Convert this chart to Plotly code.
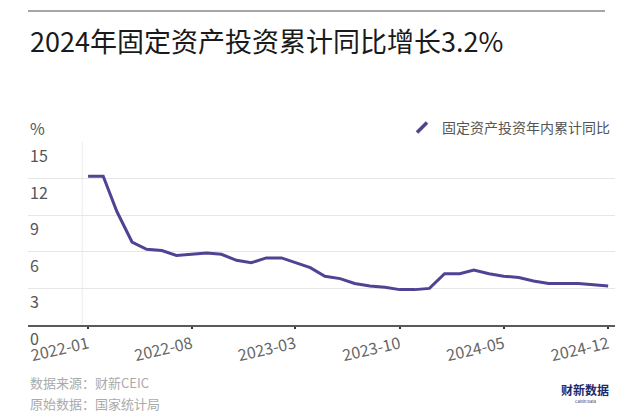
import plotly.graph_objects as go

# ---- data ----
months = [f"{y}-{m:02d}-01" for y in (2022, 2023, 2024) for m in range(1, 13)]
fai_yoy = [12.2, 12.2, 9.3, 6.8, 6.2, 6.1, 5.7, 5.8, 5.9, 5.8, 5.3, 5.1,
           5.5, 5.5, 5.1, 4.7, 4.0, 3.8, 3.4, 3.2, 3.1, 2.9, 2.9, 3.0,
           4.2, 4.2, 4.5, 4.2, 4.0, 3.9, 3.6, 3.4, 3.4, 3.4, 3.3, 3.2]
series_name = "固定资产投资年内累计同比"
x_tick_vals = ["2022-01-01", "2022-08-01", "2023-03-01", "2023-10-01", "2024-05-01", "2024-12-01"]
x_tick_text = ["2022-01", "2022-08", "2023-03", "2023-10", "2024-05", "2024-12"]
y_tick_vals = [0, 3, 6, 9, 12, 15]
title_text = "2024年固定资产投资累计同比增长3.2%"
unit_text = "%"
source_lines = ["数据来源：财新CEIC", "原始数据：国家统计局"]

FONT = "Noto Sans CJK SC, Noto Sans, sans-serif"
LINE_COLOR = "#4f4494"

# page body has an 8px margin, so the figure is drawn 8px smaller and offset
W, H = 632, 410
ML, MT = 20, 134
PW, PH = 587, 183
MR, MB = W - ML - PW, H - MT - PH


def py(ref_y):
    """paper y from a reference-pixel y (plot spans 142..325 in the reference)."""
    return (325 - ref_y) / PH


def px(ref_x):
    return (ref_x - 28) / PW


fig = go.Figure()
fig.add_trace(go.Scatter(
    x=months, y=fai_yoy, mode="lines", name=series_name, showlegend=False,
    line=dict(color=LINE_COLOR, width=3), hoverinfo="x+y"))
# legend-only entry with a slanted stroke symbol
fig.add_trace(go.Scatter(
    x=[None], y=[None], mode="markers", name=series_name,
    marker=dict(symbol="line-ne-open", size=10, color=LINE_COLOR,
                line=dict(color=LINE_COLOR, width=3.5))))

fig.update_layout(
    width=W, height=H,
    margin=dict(l=ML, r=MR, t=MT, b=MB, autoexpand=False),
    paper_bgcolor="white", plot_bgcolor="white",
    font=dict(family=FONT, color="#555"),
    showlegend=True,
    legend=dict(x=1, xanchor="right", y=py(128), yanchor="middle",
                font=dict(size=14, color="#555"), bgcolor="rgba(0,0,0,0)",
                itemwidth=30, tracegroupgap=0),
    xaxis=dict(type="date", range=["2021-08-31", "2024-12-15"], automargin=False,
               tickvals=x_tick_vals, ticktext=x_tick_text, tickangle=-13,
               tickfont=dict(size=16, color="#666"),
               showgrid=False, zeroline=False,
               showline=True, linecolor="#5a5a5a", linewidth=2,
               ticks="outside", ticklen=2, tickwidth=2, tickcolor="#333"),
    yaxis=dict(range=[0, 15], tickvals=y_tick_vals, showticklabels=False,
               automargin=False,
               showgrid=True, gridcolor="#e6e6e6", gridwidth=1, zeroline=False,
               showline=False),
)

# y tick labels sit just below their gridlines
for v in y_tick_vals:
    fig.add_annotation(text=str(v), xref="paper", yref="y", x=0, y=v, yshift=-13,
                       xanchor="left", yanchor="middle", showarrow=False,
                       font=dict(size=16, color="#555", family=FONT))

# faint vertical guide at left of data
fig.add_shape(type="line", xref="x", yref="paper", x0="2021-12-20", x1="2021-12-20",
              y0=0, y1=1, line=dict(color="#ececec", width=1), layer="below")
# top rule
fig.add_shape(type="line", xref="paper", yref="paper",
              x0=0, x1=px(605), y0=py(11), y1=py(11),
              line=dict(color="#888", width=1.5))

fig.add_annotation(text=title_text, xref="paper", yref="paper", x=0, y=py(40),
                   xanchor="left", yanchor="middle", showarrow=False,
                   font=dict(size=27, color="#1a1a1a", family=FONT))
fig.add_annotation(text=unit_text, xref="paper", yref="paper", x=0, y=py(128),
                   xanchor="left", yanchor="middle", showarrow=False,
                   font=dict(size=16, color="#555", family=FONT))
for i, line in enumerate(source_lines):
    fig.add_annotation(text=line, xref="paper", yref="paper", x=0,
                       y=py(382 + 21 * i), xanchor="left", yanchor="middle",
                       showarrow=False, font=dict(size=13, color="#aaa", family=FONT))
fig.add_annotation(text="<b>财新数据</b>", xref="paper", yref="paper", x=px(585),
                   y=py(389), xanchor="center", yanchor="middle", showarrow=False,
                   font=dict(size=12, color="#1d2a6e", family=FONT))
fig.add_annotation(text="Caixin Data", xref="paper", yref="paper", x=px(585),
                   y=py(401), xanchor="center", yanchor="middle", showarrow=False,
                   font=dict(size=4, color="#1d2a6e", family=FONT))

fig.write_html("out.html")
